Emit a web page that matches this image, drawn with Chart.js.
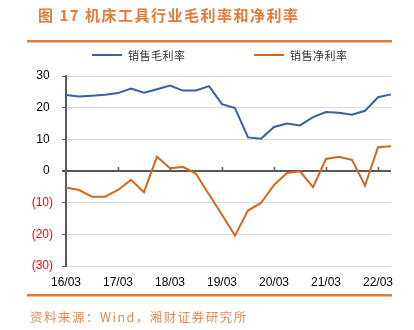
<!DOCTYPE html>
<html>
<head>
<meta charset="utf-8">
<script src="https://cdn.jsdelivr.net/npm/chart.js@4"></script>
<style>
  html, body { margin: 0; padding: 0; background: #fff; }
  #wrap { position: relative; width: 414px; height: 330px; }
</style>
</head>
<body>
<div id="wrap"><canvas id="myChart" width="414" height="330"></canvas></div>
<script>
// quarterly data, 16/03 .. 22/06
var quarters = [
  '16/03', '16/06', '16/09', '16/12',
  '17/03', '17/06', '17/09', '17/12',
  '18/03', '18/06', '18/09', '18/12',
  '19/03', '19/06', '19/09', '19/12',
  '20/03', '20/06', '20/09', '20/12',
  '21/03', '21/06', '21/09', '21/12',
  '22/03', '22/06'
];
var grossMargin = [24.0, 23.5, 23.8, 24.1, 24.6, 26.0, 24.7, 25.8, 27.0, 25.4, 25.4, 26.8,
  21.1, 19.9, 10.6, 10.2, 13.9, 15.0, 14.4, 17.0, 18.6, 18.4, 17.8, 19.0, 23.3, 24.2];
var netMargin = [-5.2, -6.0, -8.1, -8.1, -6.0, -2.8, -6.7, 4.5, 0.9, 1.3, -0.9, -7.4,
  -13.8, -20.4, -12.5, -10.1, -4.4, -0.6, -0.1, -5.1, 3.8, 4.5, 3.5, -4.6, 7.5, 7.8];
var seriesNames = ['销售毛利率', '销售净利率'];
var yTicks = [30, 20, 10, 0, -10, -20, -30];

var titleText = '图 17 机床工具行业毛利率和净利率';
var sourceText = '资料来源：Wind，湘财证券研究所';
var ORANGE = '#E07B39';
var CJK = '"Noto Sans CJK SC", sans-serif';

// title, rules, legend and source note
var decor = {
  id: 'decor',
  beforeDraw: function (chart) {
    var c = chart.ctx;
    c.save();
    c.fillStyle = '#fff';
    c.fillRect(0, 0, chart.width, chart.height);

    c.fillStyle = ORANGE;
    c.font = 'bold 15px ' + CJK;
    c.textBaseline = 'middle';
    c.textAlign = 'left';
    c.letterSpacing = '1.5px';
    c.fillText(titleText, 38, 15);

    c.letterSpacing = '0px';
    c.fillRect(27, 40, 365, 2.5);
    c.fillRect(27, 294, 365, 2.5);

    c.fillStyle = '#E58A4E';
    c.font = '12.5px ' + CJK;
    c.letterSpacing = '1.5px';
    c.fillText(sourceText, 30, 317);

    // legend
    var legendX = [92, 254];
    c.font = '11px ' + CJK;
    c.letterSpacing = '0.5px';
    chart.data.datasets.forEach(function (ds, i) {
      c.strokeStyle = ds.borderColor;
      c.lineWidth = 2;
      c.beginPath();
      c.moveTo(legendX[i], 55);
      c.lineTo(legendX[i] + 30, 55);
      c.stroke();
      c.fillStyle = '#333';
      c.fillText(ds.label, legendX[i] + 36, 56);
    });
    c.restore();
  },
  beforeDatasetsDraw: function (chart) {
    // small year ticks sitting on the zero line
    var c = chart.ctx;
    var x = chart.scales.x;
    var y0 = chart.scales.y.getPixelForValue(0);
    c.save();
    c.strokeStyle = '#595959';
    c.lineWidth = 1.5;
    for (var i = 4; i < quarters.length; i += 4) {
      var px = Math.round(x.getPixelForValue(i)) + 0.5;
      c.beginPath();
      c.moveTo(px, y0);
      c.lineTo(px, y0 - 4);
      c.stroke();
    }
    c.restore();
  }
};

var ctx = document.getElementById('myChart').getContext('2d');
var myChart = new Chart(ctx, {
  type: 'line',
  data: {
    labels: quarters,
    datasets: [
      {
        label: seriesNames[0],
        data: grossMargin,
        borderColor: '#3A5FA6',
        backgroundColor: '#3A5FA6',
        borderWidth: 2,
        pointRadius: 0,
        tension: 0,
        fill: false
      },
      {
        label: seriesNames[1],
        data: netMargin,
        borderColor: '#D2691E',
        backgroundColor: '#D2691E',
        borderWidth: 2,
        pointRadius: 0,
        tension: 0,
        fill: false
      }
    ]
  },
  options: {
    responsive: false,
    animation: false,
    layout: { padding: { top: 76, right: 23, bottom: 40, left: 0 } },
    plugins: {
      legend: { display: false },
      tooltip: { enabled: false }
    },
    scales: {
      x: {
        type: 'category',
        offset: false,
        grid: { display: false, drawTicks: false },
        border: { display: false },
        ticks: {
          autoSkip: false,
          maxRotation: 0,
          padding: 9,
          color: '#000',
          font: { family: 'Liberation Sans, Arial, sans-serif', size: 12 },
          callback: function (v, i) { return i % 4 === 0 ? quarters[i] : ''; }
        },
        afterFit: function (s) { s.height = 24; }
      },
      y: {
        min: -30,
        max: 30,
        afterBuildTicks: function (s) {
          s.ticks = yTicks.map(function (v) { return { value: v }; });
        },
        grid: {
          color: function (c) { return c.tick && c.tick.value === 0 ? '#595959' : '#D9D9D9'; },
          lineWidth: function (c) { return c.tick && c.tick.value === 0 ? 2 : 1; },
          tickColor: '#595959',
          tickLength: 4
        },
        border: { color: '#595959', width: 2 },
        ticks: {
          padding: 9,
          color: function (c) { return c.tick.value < 0 ? '#FF0000' : '#000'; },
          font: { family: 'Liberation Sans, Arial, sans-serif', size: 12 },
          callback: function (v) { return v < 0 ? '(' + Math.abs(v) + ')' : v + ' '; }
        },
        afterFit: function (s) { s.width = 66; }
      }
    }
  },
  plugins: [decor]
});
</script>
</body>
</html>
